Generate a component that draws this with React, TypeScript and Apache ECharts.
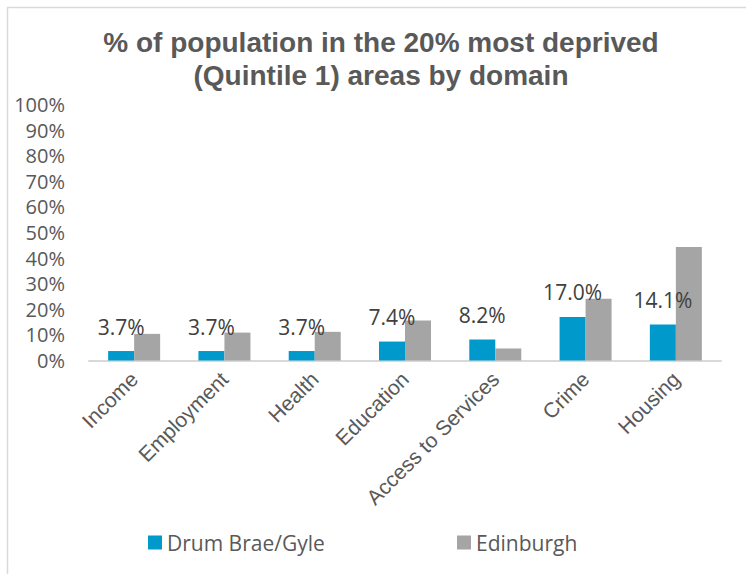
import React, { useEffect, useRef } from "react";
import * as echarts from "echarts";

const categories = ["Income", "Employment", "Health", "Education", "Access to Services", "Crime", "Housing"];
const drumBrae = [3.7, 3.7, 3.7, 7.4, 8.2, 17.0, 14.1];
const edinburgh = [10.4, 10.9, 11.2, 15.6, 4.7, 24.1, 44.3];
const seriesNames = ["Drum Brae/Gyle", "Edinburgh"];
const titleLines = ["% of population in the 20% most deprived", "(Quintile 1) areas by domain"];

export default function App() {
  const ref = useRef<HTMLDivElement>(null);
  useEffect(() => {
    if (!ref.current) return;
    const chart = echarts.init(ref.current, null, { renderer: "svg" });
    const legendBase = {
      top: 532,
      padding: 0,
      icon: "rect",
      itemWidth: 14,
      itemHeight: 14,
      textStyle: { fontSize: 21, color: "#595959", fontFamily: "Open Sans" },
    };
    chart.setOption({
      animation: false,
      backgroundColor: "#ffffff",
      graphic: [
        {
          type: "rect",
          shape: { x: 7.5, y: 7.5, width: 800, height: 620 },
          style: { fill: "none", stroke: "#D9D9D9", lineWidth: 1.5 },
          silent: true,
        },
        {
          type: "text",
          x: 381,
          y: 26,
          style: {
            text: titleLines.join("\n"),
            align: "center",
            textAlign: "center",
            verticalAlign: "top",
            textVerticalAlign: "top",
            fontSize: 28,
            lineHeight: 33,
            fontWeight: "bold",
            fontFamily: "Liberation Sans, Arial, sans-serif",
            fill: "#595959",
          },
        },
      ],
      legend: [
        { ...legendBase, data: [seriesNames[0]], left: 148 },
        { ...legendBase, data: [seriesNames[1]], left: 457 },
      ],
      grid: { left: 89, right: 25, top: 104.5, bottom: 213.5, containLabel: false },
      xAxis: {
        type: "category",
        data: categories,
        axisTick: { show: false },
        axisLine: { lineStyle: { color: "#D9D9D9", width: 2 } },
        axisLabel: {
          rotate: 45,
          interval: 0,
          margin: 15,
          fontSize: 21,
          color: "#595959",
          fontFamily: "Liberation Sans, Arial, sans-serif",
        },
      },
      yAxis: {
        type: "value",
        min: 0,
        max: 100,
        interval: 10,
        splitLine: { show: false },
        axisLine: { show: false },
        axisTick: { show: false },
        axisLabel: {
          formatter: "{value}%",
          margin: 24,
          fontSize: 20,
          color: "#595959",
          fontFamily: "Open Sans",
        },
      },
      series: [
        {
          name: seriesNames[0],
          type: "bar",
          data: drumBrae,
          barWidth: 26,
          barGap: "0%",
          itemStyle: { color: "#0099CC" },
          label: {
            show: true,
            position: "top",
            distance: 14,
            fontSize: 21,
            color: "#404040",
            fontFamily: "Open Sans",
            formatter: (p: any) => Number(p.value).toFixed(1) + "%",
          },
        },
        {
          name: seriesNames[1],
          type: "bar",
          data: edinburgh,
          barWidth: 26,
          barGap: "0%",
          itemStyle: { color: "#A5A5A5" },
        },
      ],
    });
    return () => chart.dispose();
  }, []);
  return (
    <div
      ref={ref}
      style={{ position: "absolute", left: 0, top: 0, width: 746, height: 574 }}
    />
  );
}
